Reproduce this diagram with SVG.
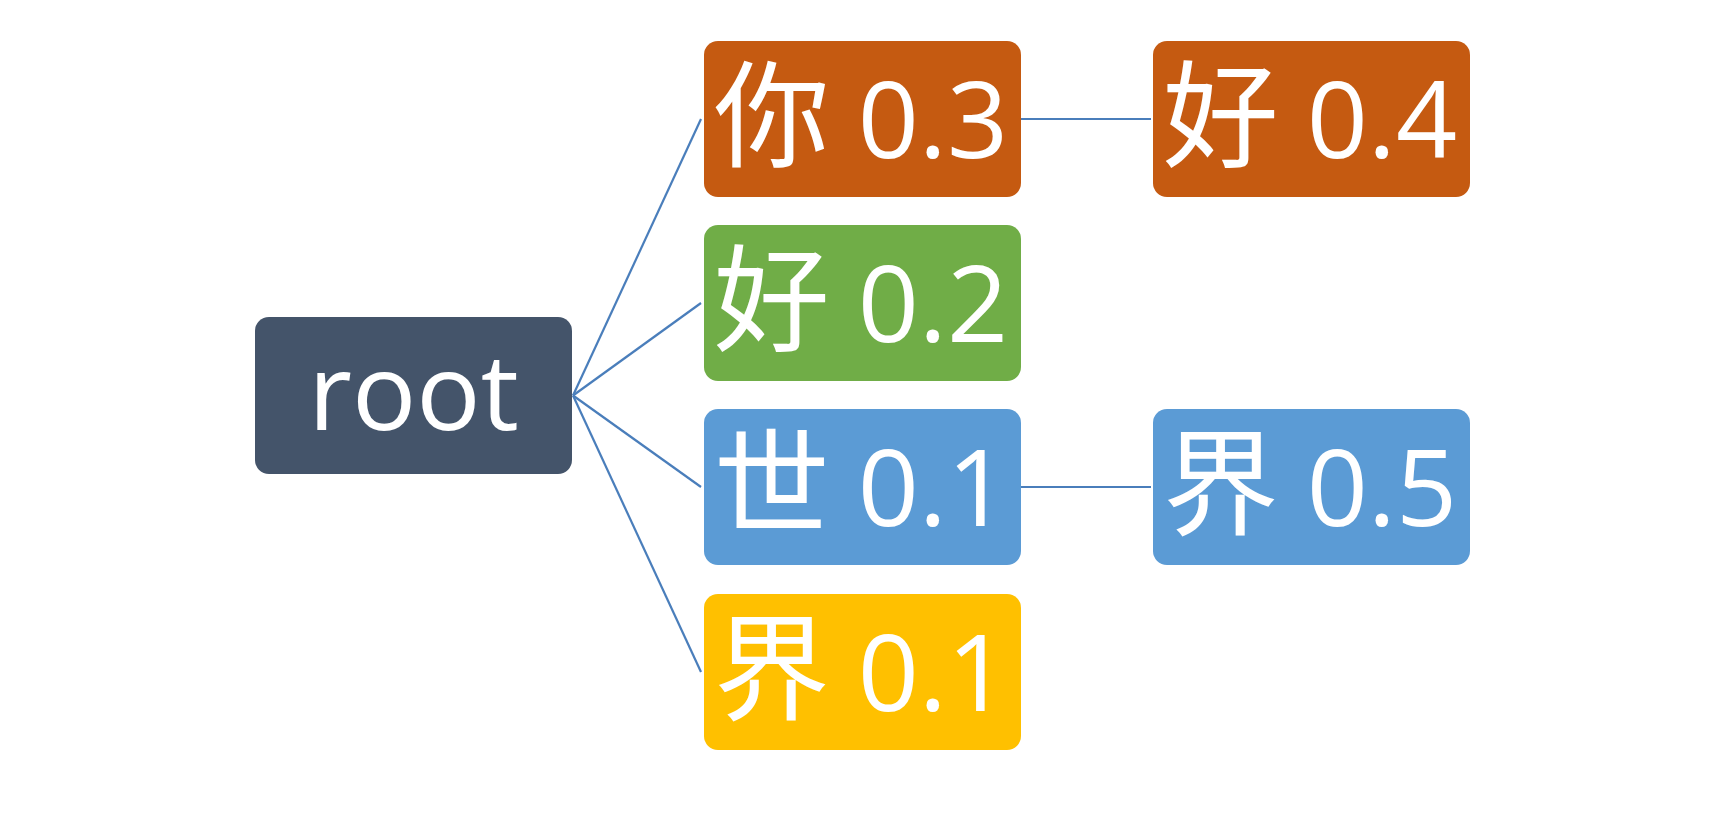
<svg xmlns="http://www.w3.org/2000/svg" width="1725" height="813" viewBox="0 0 1725 813">
<style>
.box{stroke:none}
.lbl{font-family:"Open Sans","Noto Sans CJK SC",sans-serif;font-size:107px;fill:#ffffff;text-anchor:middle}
.cjk{font-family:"Noto Sans CJK SC",sans-serif;font-size:116px}
.edge{stroke:#4A7EBB;stroke-width:2.2;fill:none}
</style>
<rect width="1725" height="813" fill="#ffffff"/>
<g id="connectors">
<line class="edge" x1="573" y1="395.5" x2="701" y2="119"/>
<line class="edge" x1="573" y1="395.5" x2="701" y2="303"/>
<line class="edge" x1="573" y1="395.5" x2="701" y2="487"/>
<line class="edge" x1="573" y1="395.5" x2="701" y2="672"/>
<line class="edge" x1="1021" y1="119" x2="1151" y2="119"/>
<line class="edge" x1="1021" y1="487" x2="1151" y2="487"/>
</g>
<g id="root">
<rect class="box" x="255" y="317" width="317" height="157" rx="14" fill="#44546A"/>
<text class="lbl" x="413.5" y="430">root</text>
</g>
<g id="n1">
<rect class="box" x="704" y="41" width="317" height="156" rx="14" fill="#C55A11"/>
<text class="lbl" x="861" y="158"><tspan class="cjk">你</tspan> 0.3</text>
</g>
<g id="n2">
<rect class="box" x="704" y="225" width="317" height="156" rx="14" fill="#70AD47"/>
<text class="lbl" x="861" y="342"><tspan class="cjk">好</tspan> 0.2</text>
</g>
<g id="n3">
<rect class="box" x="704" y="409" width="317" height="156" rx="14" fill="#5B9BD5"/>
<text class="lbl" x="861" y="526"><tspan class="cjk">世</tspan> 0.1</text>
</g>
<g id="n4">
<rect class="box" x="704" y="594" width="317" height="156" rx="14" fill="#FFC000"/>
<text class="lbl" x="861" y="711"><tspan class="cjk">界</tspan> 0.1</text>
</g>
<g id="n5">
<rect class="box" x="1153" y="41" width="317" height="156" rx="14" fill="#C55A11"/>
<text class="lbl" x="1310" y="158"><tspan class="cjk">好</tspan> 0.4</text>
</g>
<g id="n6">
<rect class="box" x="1153" y="409" width="317" height="156" rx="14" fill="#5B9BD5"/>
<text class="lbl" x="1310" y="526"><tspan class="cjk">界</tspan> 0.5</text>
</g>
</svg>
